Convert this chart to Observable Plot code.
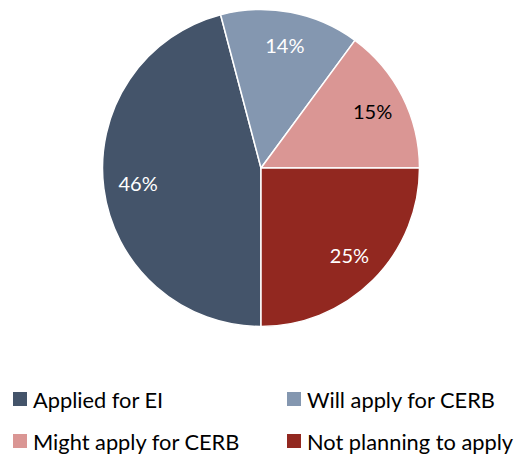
<!DOCTYPE html>
<html>
<head>
<meta charset="utf-8">
<script src="https://cdn.jsdelivr.net/npm/d3@7"></script>
<script src="https://cdn.jsdelivr.net/npm/@observablehq/plot@0.6"></script>
<style>
  html, body { margin: 0; padding: 0; background: #fff; }
  #wrap { position: relative; width: 519px; height: 454px; font-family: Lato, "Open Sans", sans-serif; }
  #legend { position: absolute; left: 0; top: 360px; width: 519px; height: 94px; }
  .item { position: absolute; display: flex; align-items: center; font-size: 21.8px; color: #000; white-space: nowrap; }
  .sw { width: 14px; height: 14px; margin-right: 6px; flex: none; }
</style>
</head>
<body>
<div id="wrap"><div id="chart"></div><div id="legend"></div></div>
<script>
const categories = ["Applied for EI", "Will apply for CERB", "Might apply for CERB", "Not planning to apply"];
const values = [45.9, 14.2, 14.9, 25.0];
const colors = ["#44546A", "#8497B0", "#DA9694", "#922820"];
const labelColors = ["#ffffff", "#ffffff", "#000000", "#ffffff"];

const data = categories.map((c, i) => ({category: c, value: values[i], color: colors[i], labelColor: labelColors[i]}));
const pie = d3.pie().value(d => d.value).sort(null).startAngle(Math.PI).endAngle(3 * Math.PI);
const arcs = pie(data);
const labelR = 0.785;
const labels = arcs.map(a => {
  const m = (a.startAngle + a.endAngle) / 2;
  return {x: labelR * Math.sin(m), y: labelR * Math.cos(m), text: Math.round(a.data.value) + "%", fill: a.data.labelColor};
});

const W = 519, H = 360, cx = 261, cy = 168, R = 158.5;

const sliceMark = (index, scales) => {
  const x0 = scales.x(0), y0 = scales.y(0);
  const r = scales.x(1) - scales.x(0);
  const arc = d3.arc().innerRadius(0).outerRadius(r);
  const g = d3.create("svg:g");
  g.selectAll("path").data(arcs).join("path")
    .attr("transform", `translate(${x0},${y0})`)
    .attr("d", arc)
    .attr("fill", d => d.data.color)
    .attr("stroke", "#ffffff")
    .attr("stroke-width", 1.5)
    .attr("stroke-linejoin", "round");
  return g.node();
};

const chart = Plot.plot({
  width: W,
  height: H,
  marginLeft: cx - R,
  marginRight: W - (cx + R),
  marginTop: cy - R,
  marginBottom: H - (cy + R),
  x: {domain: [-1, 1], axis: null},
  y: {domain: [-1, 1], axis: null},
  style: {fontFamily: "Lato, 'Open Sans', sans-serif", background: "#fff"},
  marks: [
    sliceMark,
    Plot.text(labels, {x: "x", y: "y", text: "text", fill: "fill", fontSize: 20})
  ]
});
document.getElementById("chart").appendChild(chart);

const legendPos = [[13, 39], [287, 39], [13, 81], [287, 81]];
const legend = document.getElementById("legend");
categories.forEach((c, i) => {
  const it = document.createElement("div");
  it.className = "item";
  it.style.left = legendPos[i][0] + "px";
  it.style.top = (legendPos[i][1] - 14) + "px";
  it.style.height = "28px";
  const sw = document.createElement("span");
  sw.className = "sw";
  sw.style.background = colors[i];
  const t = document.createElement("span");
  t.textContent = c;
  it.appendChild(sw); it.appendChild(t);
  legend.appendChild(it);
});
</script>
</body>
</html>
